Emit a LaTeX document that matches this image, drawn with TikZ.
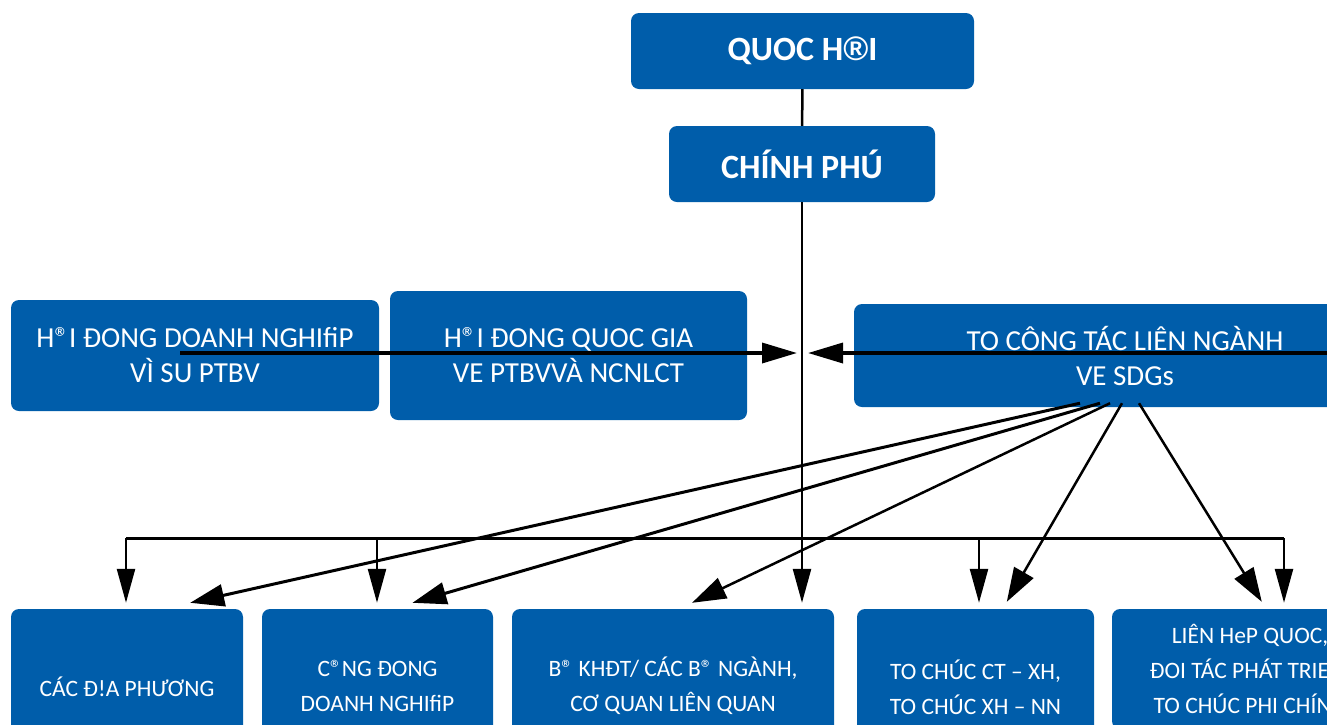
\documentclass[tikz,border=0pt]{standalone}
\usepackage{fontspec}
\setmainfont{Carlito}
\newfontfamily\regsign{Liberation Sans}
\usetikzlibrary{arrows.meta}
\definecolor{boxblue}{RGB}{0,93,170}
\begin{document}
\begin{tikzpicture}[x=1pt,y=-1pt,
  box/.style={draw=none, fill=boxblue, rounded corners=8pt, text=white,
    align=center, inner sep=0pt},
  titlebox/.style={box, font=\fontsize{34}{40}\selectfont\bfseries},
  midbox/.style={box, font=\fontsize{29}{35}\selectfont},
  lowbox/.style={box, font=\fontsize{23.5}{35}\selectfont},
  plain/.style={line width=2.5pt},
  drop/.style={line width=2.5pt, -{Triangle[length=34pt,width=18pt]}, shorten >=6pt},
  feed/.style={line width=3.5pt, -{Triangle[length=35pt,width=20pt]}},
  fan/.style={line width=3pt, -{Triangle[length=34pt,width=22pt]}},
  fanthin/.style={line width=2.5pt, -{Triangle[length=34pt,width=22pt]}}
]
\useasboundingbox (0,0) rectangle (1327,724);
\clip (0,0) rectangle (1327,724);

% top of the hierarchy
\node[titlebox, minimum width=343pt, minimum height=76pt] (qh) at (802.5,51)
  {QUOC H{\regsign\bfseries ®}I};
\node[titlebox, minimum width=266pt, minimum height=76pt] (ch) at (802,164) {CHÍNH PHÚ};

% advisory bodies
\node[midbox, minimum width=368pt, minimum height=111pt] (dn) at (195,355.5)
  {H®I ĐONG DOANH NGHIfiP\\VÌ SU PTBV};
\node[midbox, minimum width=357pt, minimum height=129pt] (qg) at (568.5,355.5)
  {H®I ĐONG QUOC GIA\\VE PTBVVÀ NCNLCT};
\node[midbox, minimum width=542pt, minimum height=103pt] (tc) at (1125,355.5)
  {TO CÔNG TÁC LIÊN NGÀNH\\VE SDGs};

% implementing bodies
\node[lowbox, minimum width=232pt, minimum height=156pt] (dp) at (127,687)
  {CÁC Đ!A PHƯƠNG};
\node[lowbox, minimum width=231pt, minimum height=154pt] (cd) at (377.5,686)
  {C®NG ĐONG\\DOANH NGHIfiP};
\node[lowbox, minimum width=322pt, minimum height=154pt] (bo) at (673,686)
  {B® KHĐT/ CÁC B® NGÀNH,\\CƠ QUAN LIÊN QUAN};
\node[lowbox, minimum width=237pt, minimum height=156pt] (to) at (975.5,687)
  {TO CHÚC CT – XH,\\TO CHÚC XH – NN};
\node[lowbox, minimum width=276pt, minimum height=120pt] (lh) at (1250,669)
  {LIÊN HeP QUOC,\\ĐOI TÁC PHÁT TRIEN,\\TO CHÚC PHI CHÍNH};

% main spine
\draw[plain] (qh) -- (ch);
\draw[drop] (ch.south) -- (ch.south |- bo.north);

% distribution bus
\coordinate (busA) at (126,538);
\coordinate (busB) at (377,538);
\coordinate (busD) at (979,538);
\coordinate (busE) at (1284,538);
\draw[line width=3pt] (busA) -- (busE);
\draw[drop] (busA) -- (busA |- dp.north);
\draw[drop] (busB) -- (busB |- cd.north);
\draw[drop] (busD) -- (busD |- to.north);
\draw[drop] (busE) -- (busE |- lh.north);

% horizontal feeds into the spine
\coordinate (hub) at (802,353);
\coordinate (feedL) at (180,353);
\coordinate (feedR) at (1340,353);
\draw[feed, shorten >=5pt] (feedL) -- (hub);
\draw[feed, shorten >=6pt] (feedR) -- (hub);

% fan-out from the working group
\coordinate (s1) at ([xshift=-45pt,yshift=4pt]tc.south);
\coordinate (s2) at ([xshift=-25pt,yshift=4pt]tc.south);
\coordinate (s3) at ([xshift=-15pt,yshift=4pt]tc.south);
\coordinate (s4) at ([xshift=-3pt,yshift=4pt]tc.south);
\coordinate (s5) at ([xshift=14pt,yshift=4pt]tc.south);
\coordinate (t1) at ([xshift=-53pt,yshift=6pt]dp.north east);
\coordinate (t2) at ([xshift=35pt,yshift=6pt]cd.north);
\coordinate (t3) at ([xshift=19pt,yshift=6pt]bo.north);
\coordinate (t4) at ([xshift=150pt,yshift=7pt]to.north west);
\coordinate (t5) at ([xshift=150pt,yshift=7pt]lh.north west);
\draw[fan] (s1) -- (t1);
\draw[fan] (s2) -- (t2);
\draw[fanthin] (s3) -- (t3);
\draw[fanthin] (s4) -- (t4);
\draw[fanthin] (s5) -- (t5);
\end{tikzpicture}
\end{document}
